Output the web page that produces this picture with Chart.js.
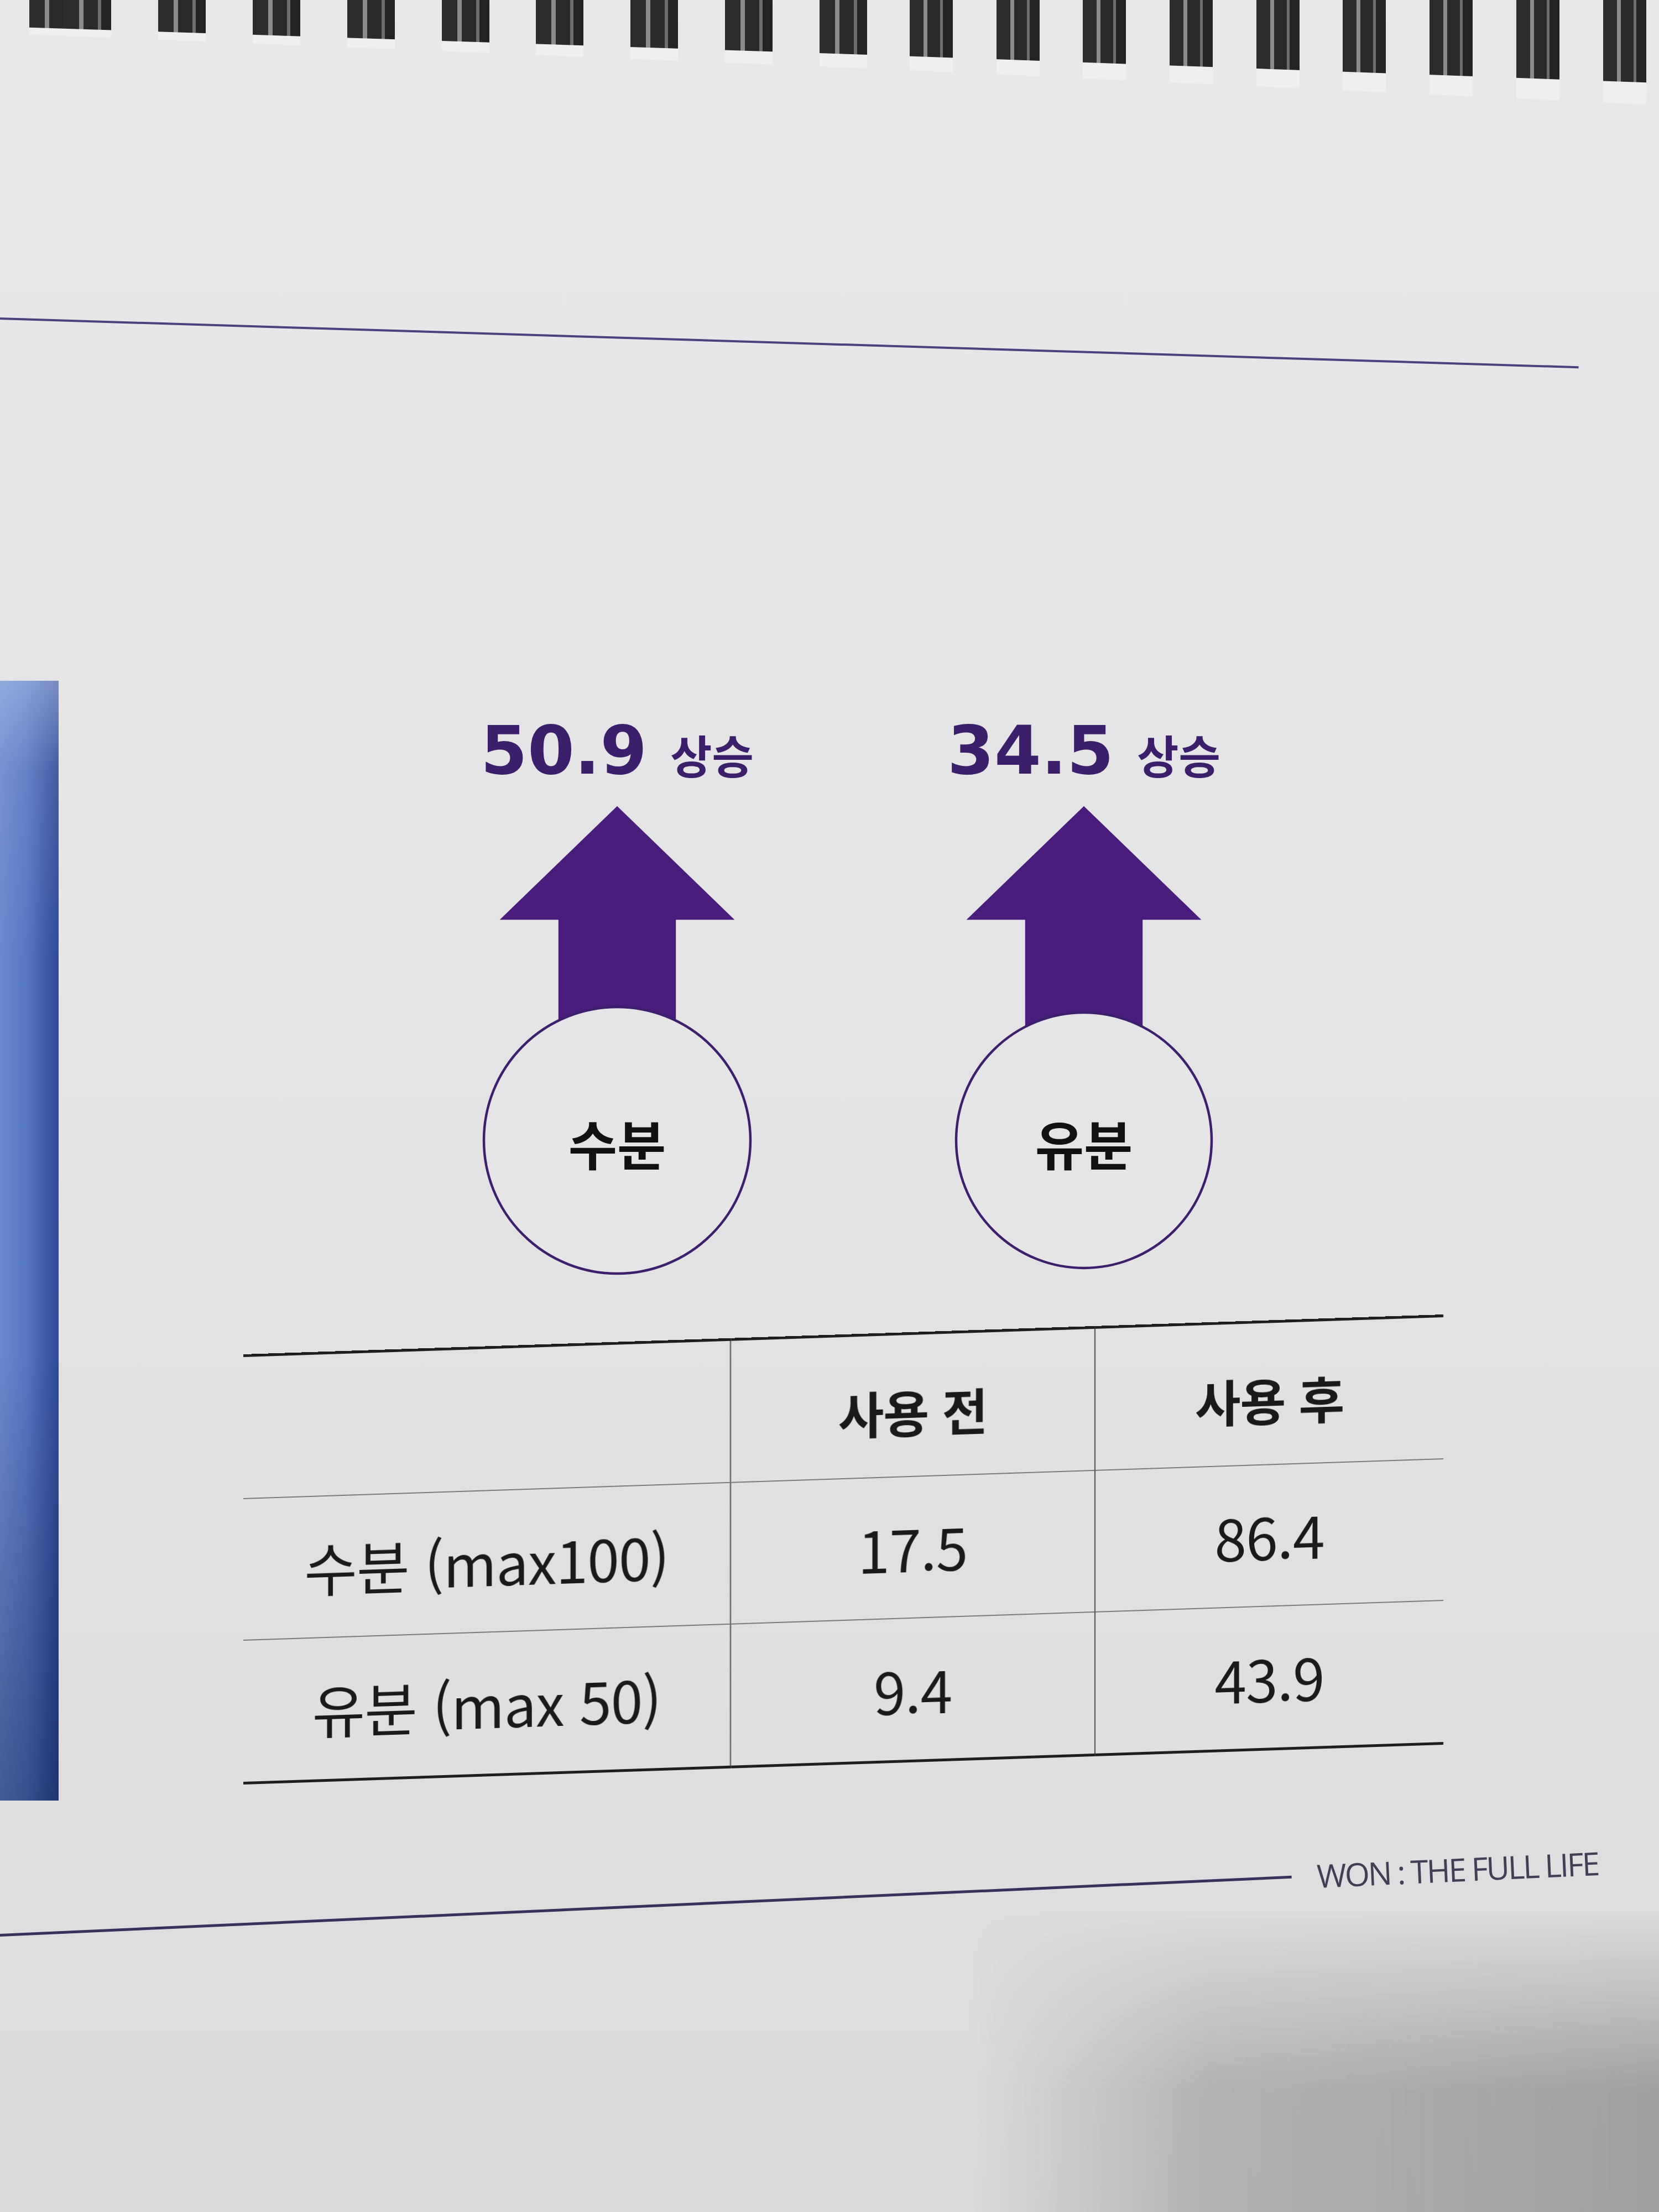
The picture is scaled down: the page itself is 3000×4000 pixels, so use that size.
<!DOCTYPE html>
<html lang="ko">
<head>
  <meta charset="UTF-8" />
  <title>수분 · 유분 사용 전후</title>
  <script src="https://cdn.jsdelivr.net/npm/chart.js"></script>
  <style>
    :root {
      --purple: #4a1c7c;
      --ink: #1a1a1a;
    }
    body {
      margin: 0;
      width: 3000px;
      height: 4000px;
      position: relative;
      overflow: hidden;
      background: linear-gradient(to bottom, #e8e8ea 0%, #e4e4e6 45%, #dcdcdd 100%);
      font-family: 'Noto Sans CJK KR', 'Noto Sans', sans-serif;
      color: var(--ink);
    }

    /* Spiralbindung oben (links weiter, rechts enger wegen Perspektive) */
    .rings, .ring-holes { position: absolute; top: 0; }
    .rings.left {
      left: 0; width: 1600px; height: 110px;
      background-image: repeating-linear-gradient(to right,
        #2c2c2e 0 28px, #8b8b8d 28px 36px, #2a2a2c 36px 62px, #6d6d70 62px 68px, #232325 68px 86px,
        transparent 86px 170.9px);
      background-position: 115px 0;
      clip-path: polygon(0 0, 100% 0, 100% 100px, 0 48px);
    }
    .rings.right {
      left: 1600px; width: 1400px; height: 160px;
      background-image: repeating-linear-gradient(to right,
        #2c2c2e 0 25px, #8b8b8d 25px 32px, #2a2a2c 32px 55px, #6d6d70 55px 60px, #232325 60px 78px,
        transparent 78px 156.7px);
      background-position: 45px 0;
      clip-path: polygon(0 0, 100% 0, 100% 150px, 0 100px);
    }
    .ring-holes.left {
      left: 0; width: 1600px; height: 140px;
      background-image: repeating-linear-gradient(to right, #efeff0 0 86px, transparent 86px 170.9px);
      background-position: 115px 0;
      clip-path: polygon(0 0, 100% 0, 100% 125px, 0 60px);
    }
    .ring-holes.right {
      left: 1600px; width: 1400px; height: 200px;
      background-image: repeating-linear-gradient(to right, #efeff0 0 78px, transparent 78px 156.7px);
      background-position: 45px 0;
      clip-path: polygon(0 0, 100% 0, 100% 190px, 0 125px);
    }

    /* Linien auf der Seite */
    .rule {
      position: absolute;
      transform-origin: 0 50%;
    }
    .rule.top    { left: 0; top: 574px;  width: 2856px; height: 4px; background: #4d4080; transform: rotate(1.77deg); }
    .rule.footer { left: 0; top: 3497px; width: 2338px; height: 5px; background: #3b2f5e; transform: rotate(-2.58deg); }

    .footer-text {
      position: absolute;
      left: 2383px; top: 3352px;
      font-family: 'Open Sans', sans-serif;
      font-size: 58px;
      letter-spacing: -3px;
      color: #433d55;
      transform: rotate(-2.6deg);
      transform-origin: 0 100%;
      white-space: nowrap;
    }

    /* Fotostreifen links */
    .photo {
      position: absolute;
      left: 0; top: 1231px;
      width: 106px; height: 2025px;
      background:
        linear-gradient(to bottom, rgba(180,195,230,0.55) 0%, rgba(180,195,230,0.15) 8%, rgba(0,0,0,0) 25%, rgba(0,0,0,0) 60%, rgba(10,20,60,0.4) 100%),
        linear-gradient(to right, #6a8ace 0%, #5677c2 45%, #2d4a95 100%);
    }

    .shadow {
      position: absolute;
      left: 1750px; top: 3450px;
      width: 1250px; height: 550px;
      background: linear-gradient(to right, rgba(70,70,70,0) 0%, rgba(70,70,70,0.28) 35%, rgba(70,70,70,0.4) 100%);
      -webkit-mask-image: linear-gradient(to bottom, transparent 0%, black 60%);
      mask-image: linear-gradient(to bottom, transparent 0%, black 60%);
    }

    #riseChart {
      position: absolute;
      left: 694px; top: 1257px;
    }

    .rise-label {
      position: absolute;
      display: flex;
      align-items: baseline;
      gap: 42px;
      transform: translateX(-50%);
      color: #3b1f6a;
      white-space: nowrap;
    }
    .rise-label .num {
      font-family: 'DejaVu Sans', sans-serif;
      font-weight: bold;
      font-size: 122px;
      line-height: 122px;
    }
    .rise-label .word {
      font-family: 'Noto Sans CJK KR', sans-serif;
      font-weight: 700;
      font-size: 82px;
      line-height: 82px;
    }
    .circle-label {
      position: absolute;
      transform: translate(-50%, -50%);
      font-weight: 700;
      font-size: 96px;
      line-height: 96px;
      color: #111;
      white-space: nowrap;
    }

    /* Tabelle */
    table.values {
      position: absolute;
      left: 440px; top: 2449px;
      border-collapse: collapse;
      transform: skewY(-1.9deg);
      transform-origin: 0 0;
      table-layout: fixed;
    }
    table.values td, table.values th {
      padding: 0;
      text-align: center;
      vertical-align: middle;
      border-left: 2px solid #4a4a4a;
      border-top: 2px solid #7a7a7a;
      font-size: 104px;
      font-weight: 400;
      letter-spacing: -1px;
    }
    table.values tr:first-of-type > * { border-top: 5px solid #1e1e1e; }
    table.values tr:last-of-type > * { border-bottom: 5px solid #1e1e1e; }
    table.values tr > :first-child { border-left: none; }
    table.values th { font-size: 90px; font-weight: 700; padding-top: 20px; }
  </style>
</head>
<body>
  <div class="ring-holes left"></div>
  <div class="ring-holes right"></div>
  <div class="rings left"></div>
  <div class="rings right"></div>
  <div class="rule top"></div>
  <div class="photo"></div>
  <canvas id="riseChart" width="1688" height="1150"></canvas>
  <table class="values" id="valueTable"></table>
  <div class="rule footer"></div>
  <div class="footer-text">WON : THE FULL LIFE</div>
  <div class="shadow"></div>

  <script>
    // Werte aus der Vorlage
    const categories = ['수분', '유분'];
    const riseValues = [50.9, 34.5];
    const riseWord = '상승';
    const columnLabels = ['사용 전', '사용 후'];
    const rowLabels = ['수분 (max100)', '유분 (max 50)'];
    const beforeValues = [17.5, 9.4];
    const afterValues = [86.4, 43.9];

    const circleRadius = [241, 231];
    const ARROW_COLOR = '#4a1c7c';
    const ARROW_SIZE = 236;

    // Pfeile hinter die Kreise zeichnen
    const riseArrows = {
      id: 'riseArrows',
      beforeDatasetsDraw(chart) {
        const ctx = chart.ctx;
        chart.getDatasetMeta(0).data.forEach((pt) => {
          const x = pt.x, y = pt.y, s = ARROW_SIZE;
          ctx.save();
          ctx.fillStyle = ARROW_COLOR;
          ctx.beginPath();
          ctx.moveTo(x, y - 2.56 * s);
          ctx.lineTo(x + 0.9 * s, y - 1.69 * s);
          ctx.lineTo(x + 0.45 * s, y - 1.69 * s);
          ctx.lineTo(x + 0.45 * s, y);
          ctx.lineTo(x - 0.45 * s, y);
          ctx.lineTo(x - 0.45 * s, y - 1.69 * s);
          ctx.lineTo(x - 0.9 * s, y - 1.69 * s);
          ctx.closePath();
          ctx.fill();
          ctx.restore();
        });
      }
    };

    const canvas = document.getElementById('riseChart');
    const chart = new Chart(canvas, {
      type: 'scatter',
      data: {
        labels: categories,
        datasets: [{
          data: categories.map((c, i) => ({ x: i, y: 0 })),
          pointRadius: circleRadius,
          pointHoverRadius: circleRadius,
          pointBackgroundColor: '#e5e5e7',
          pointBorderColor: '#3d1f6e',
          pointBorderWidth: 4.5,
          clip: false,
        }],
      },
      options: {
        responsive: false,
        devicePixelRatio: 1,
        animation: false,
        events: [],
        layout: { padding: 0, autoPadding: false },
        scales: {
          x: { type: 'linear', min: -0.5, max: 1.5, display: false },
          y: { type: 'linear', min: -3, max: 7, display: false },
        },
        plugins: {
          legend: { display: false },
          tooltip: { enabled: false },
        },
      },
      plugins: [riseArrows],
    });

    // Beschriftungen an den Datenpunkten ausrichten
    const offX = canvas.offsetLeft, offY = canvas.offsetTop;
    categories.forEach((name, i) => {
      const px = offX + chart.scales.x.getPixelForValue(i);
      const py = offY + chart.scales.y.getPixelForValue(0);

      const rise = document.createElement('div');
      rise.className = 'rise-label';
      rise.style.left = px + 'px';
      rise.style.top = (py - 766) + 'px';
      rise.innerHTML = '<span class="num">' + riseValues[i].toFixed(1) + '</span><span class="word">' + riseWord + '</span>';
      document.body.appendChild(rise);

      const lab = document.createElement('div');
      lab.className = 'circle-label';
      lab.style.left = px + 'px';
      lab.style.top = (py + 4) + 'px';
      lab.textContent = name;
      document.body.appendChild(lab);
    });

    // Tabelle aufbauen
    const colWidths = [881, 659, 630];
    const rowHeights = [258, 256, 259];
    const table = document.getElementById('valueTable');
    const colgroup = document.createElement('colgroup');
    colWidths.forEach(w => {
      const col = document.createElement('col');
      col.style.width = w + 'px';
      colgroup.appendChild(col);
    });
    table.appendChild(colgroup);

    const head = document.createElement('tr');
    head.style.height = rowHeights[0] + 'px';
    head.innerHTML = '<th></th>' + columnLabels.map(l => '<th>' + l + '</th>').join('');
    table.appendChild(head);

    rowLabels.forEach((label, i) => {
      const tr = document.createElement('tr');
      tr.style.height = rowHeights[i + 1] + 'px';
      tr.innerHTML = '<td>' + label + '</td><td>' + beforeValues[i].toFixed(1) + '</td><td>' + afterValues[i].toFixed(1) + '</td>';
      table.appendChild(tr);
    });
  </script>
</body>
</html>
